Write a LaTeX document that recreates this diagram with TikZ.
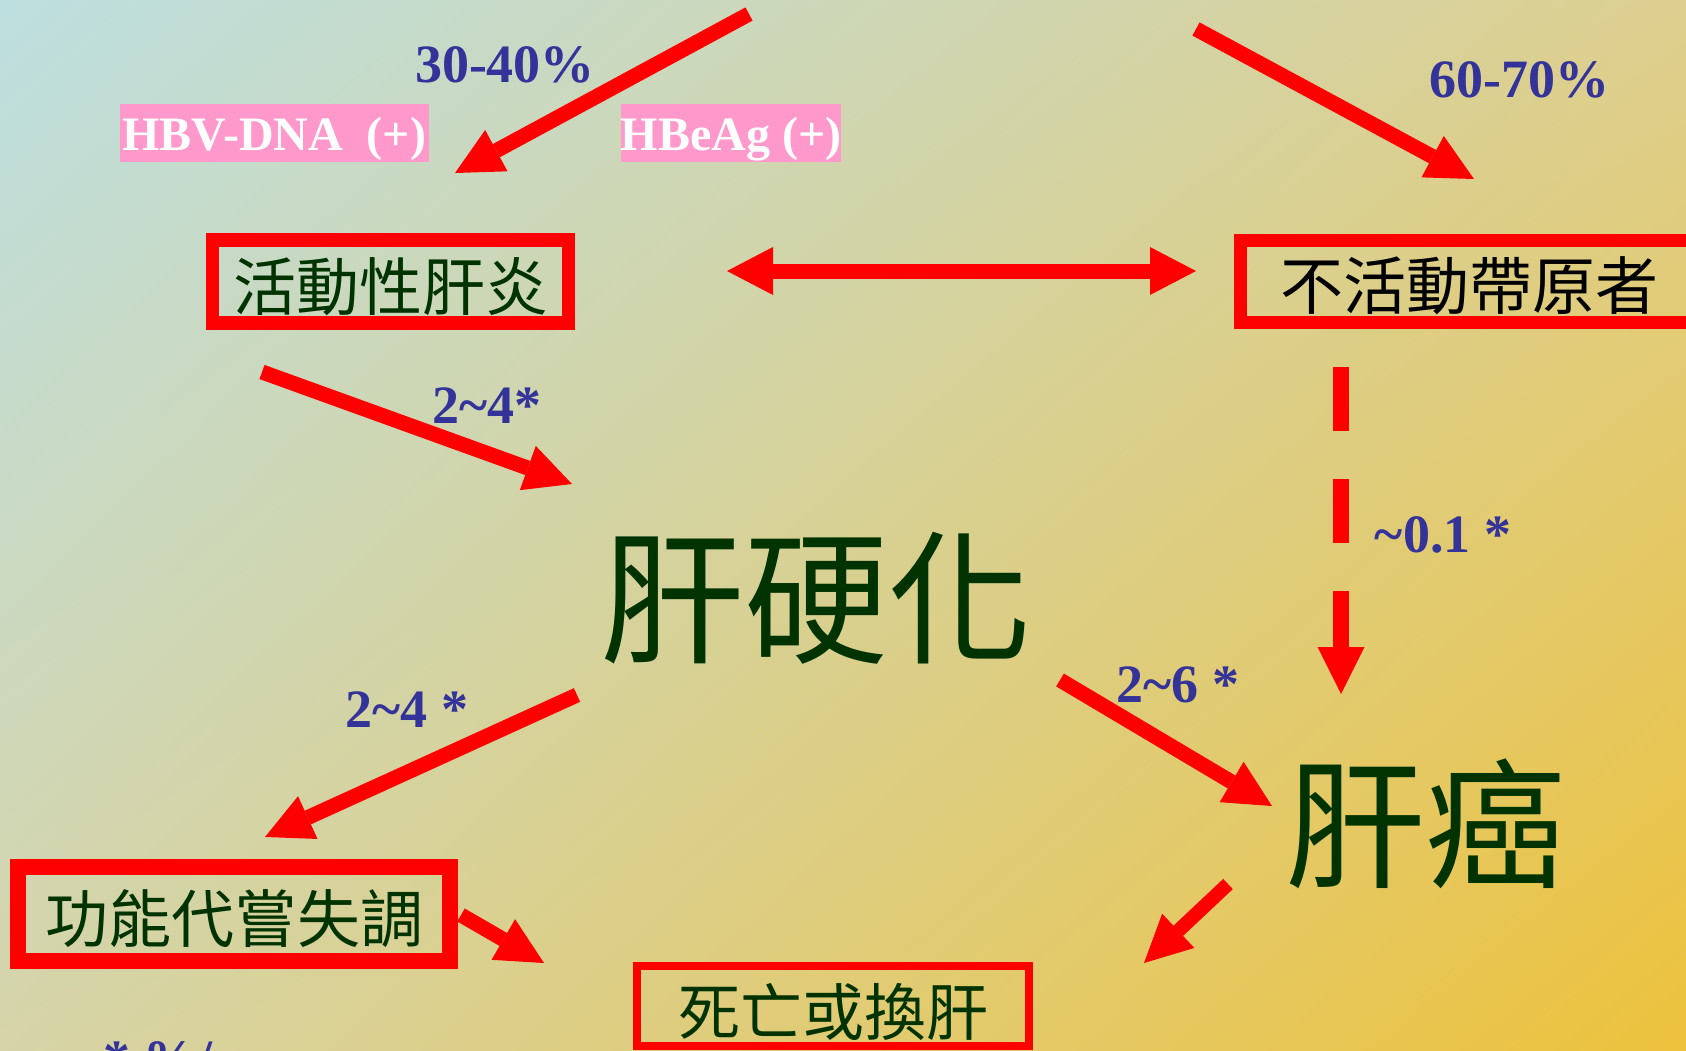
\documentclass[tikz,border=0pt]{standalone}
\usepackage{fontspec}
\setmainfont{Liberation Serif}
\newfontfamily\cjk{Noto Sans CJK TC}
\usetikzlibrary{arrows.meta,shadings}
\definecolor{redc}{RGB}{255,0,0}
\definecolor{bluec}{RGB}{51,51,153}
\definecolor{greenc}{RGB}{0,51,0}
\definecolor{pinkc}{RGB}{255,153,204}
\definecolor{bgtl}{RGB}{189,223,224}
\definecolor{bgtr}{RGB}{221,207,143}
\definecolor{bgbl}{RGB}{214,212,168}
\definecolor{bgbr}{RGB}{237,194,60}
\begin{document}
\begin{tikzpicture}[x=1pt,y=-1pt,
  lab/.style={text=bluec, font=\fontsize{54}{60}\selectfont\bfseries, anchor=base, inner sep=0pt},
  tag/.style={fill=pinkc, text=white, font=\fontsize{48}{54}\selectfont\bfseries, inner sep=0pt, text height=38pt, text depth=4pt, minimum height=58pt},
  redbox/.style={draw=redc, text=greenc, inner sep=0pt, font=\cjk\fontsize{63}{70}\selectfont},
  bigtext/.style={text=greenc, inner sep=0pt, font=\cjk\fontsize{144}{150}\selectfont},
  fat/.style={draw=redc, line width=15pt, -{Triangle[length=47pt,width=47pt,line width=0pt]}},
  fatboth/.style={draw=redc, line width=15pt, {Triangle[length=46pt,width=48pt,line width=0pt]}-{Triangle[length=46pt,width=48pt,line width=0pt]}},
]
\useasboundingbox (0,0) rectangle (1686,1050);
\clip (0,0) rectangle (1686,1050);
\shade[shading=bilinear interpolation, upper left=bgtl, upper right=bgtr, lower left=bgbl, lower right=bgbr] (0,0) rectangle (1686,1050);

% boxes
\node[redbox, line width=13.5pt, minimum width=356pt, minimum height=83pt, text height=60pt, text depth=3pt] (active) at (390.5,281.5) {活動性肝炎};
\node[redbox, line width=13pt, text=black, anchor=west, inner xsep=40pt, text width=440pt, align=left, minimum height=82pt, text height=58pt, text depth=3pt] (inactive) at (1234,281.5) {不活動帶原者};
\node[redbox, line width=16pt, minimum width=432pt, minimum height=93.5pt, text height=61pt, text depth=3pt] (decomp) at (234,913.75) {功能代嘗失調};
\node[redbox, line width=8pt, minimum width=392pt, minimum height=80pt, font=\cjk\fontsize{62}{70}\selectfont, text height=62pt, text depth=4pt] (death) at (833,1006) {死亡或換肝};

\node[bigtext] (cirr) at (816,598) {肝硬化};
\node[bigtext, font=\cjk\fontsize{140}{150}\selectfont] (hcc) at (1425,824) {肝癌};

% pink tags
\node[tag, minimum width=309pt] (hbvdna) at (274.5,133) {HBV-DNA\ \ (+)};
\node[tag, minimum width=220pt] (hbeag) at (731,133) {HBeAg (+)};

% blue labels
\node[lab] (p1) at (505,82) {30-40\%};
\node[lab] (p2) at (1519,97) {60-70\%};
\node[lab] (r1) at (487,423) {2\textasciitilde4*};
\node[lab] (r2) at (407,727) {2\textasciitilde4 *};
\node[lab] (r3) at (1178,702) {2\textasciitilde6 *};
\node[lab] (r4) at (1443,552) {\textasciitilde0.1 *};
\node[lab, anchor=base west] (note) at (103,1077) {* \%/};

% arrow end points
\coordinate (t1) at (749,14);   \coordinate (h1) at (455,173);
\coordinate (t2) at (1196,29);  \coordinate (h2) at (1474,179);
\coordinate (t3) at (262,372);  \coordinate (h3) at (572,484);
\coordinate (t4) at (1341,367); \coordinate (h4) at (1341,694);
\coordinate (t5) at (577,695);  \coordinate (h5) at (265,837);
\coordinate (t6) at (1060,680); \coordinate (h6) at (1272,806);
\coordinate (t7) at (461,915);  \coordinate (h7) at (544,963);
\coordinate (t8) at (1228,884); \coordinate (h8) at (1144,963);
\coordinate (d1) at (727,271);  \coordinate (d2) at (1196,271);

\draw[fat] (t1) -- (h1);
\draw[fat] (t2) -- (h2);
\draw[fat] (t3) -- (h3);
\draw[fat, line width=16pt, dash pattern=on 64pt off 48pt] (t4) -- (h4);
\draw[fat] (t5) -- (h5);
\draw[fat] (t6) -- (h6);
\draw[fat] (t7) -- (h7);
\draw[fat, line width=14pt] (t8) -- (h8);
\draw[fatboth] (d1) -- (d2);
\end{tikzpicture}
\end{document}
